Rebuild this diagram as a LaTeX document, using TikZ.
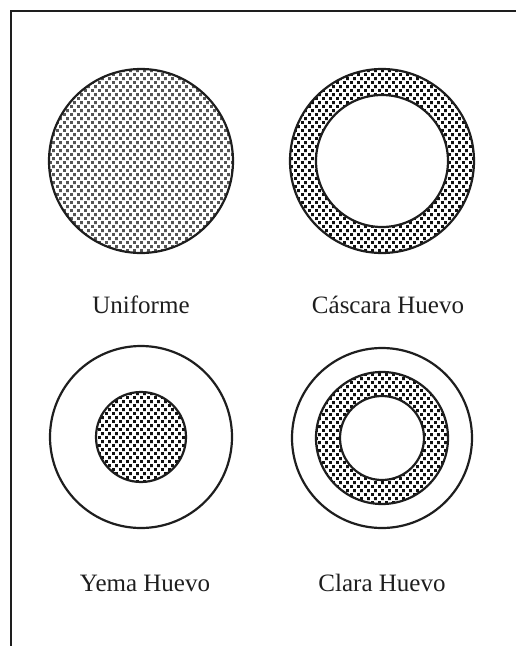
\documentclass[tikz,border=0pt]{standalone}
\usepackage{fontspec}
\setmainfont{Liberation Serif}
\usetikzlibrary{patterns}
\pgfdeclarepatternformonly{sqdots}{\pgfpointorigin}{\pgfqpoint{7pt}{8.4pt}}{\pgfqpoint{7pt}{8.4pt}}{%
  \pgfpathrectangle{\pgfqpoint{0pt}{0pt}}{\pgfqpoint{3.2pt}{3.2pt}}%
  \pgfpathrectangle{\pgfqpoint{3.5pt}{4.2pt}}{\pgfqpoint{3.2pt}{3.2pt}}%
  \pgfusepath{fill}}
\definecolor{lightdot}{HTML}{555555}
\definecolor{darkdot}{HTML}{111111}
\definecolor{ink}{HTML}{1E1E1E}
\tikzset{
  ring/.style={draw=ink, line width=2.2pt},
  graydots/.style={ring, pattern=sqdots, pattern color=lightdot},
  blackdots/.style={ring, pattern=sqdots, pattern color=darkdot},
  plain/.style={ring, fill=white},
  lbl/.style={anchor=base, font=\fontsize{25}{29}\selectfont, text=ink, inner sep=0pt},
  frame/.style={draw=ink, line width=2.2pt}
}
\begin{document}
\begin{tikzpicture}[x=1pt,y=-1pt]
\useasboundingbox (0,0) rectangle (516,646);
\coordinate (fb) at (11,646);
\coordinate (fc) at (11,11);
\coordinate (fr) at (516,11);
\draw[frame] (fb) -- (fc) -- (fr);
% Uniforme
\path[graydots] (141,161) circle[radius=92];
\node[lbl] (l1) at (141,313) {Uniforme};
% Cascara Huevo
\path[blackdots] (382,161) circle[radius=92];
\path[plain] (382,161) circle[radius=66];
\node[lbl] (l2) at (388,313) {Cáscara Huevo};
% Yema Huevo
\path[plain] (141,437) circle[radius=91];
\path[blackdots] (141,437) circle[radius=45];
\node[lbl] (l3) at (145,591) {Yema Huevo};
% Clara Huevo
\path[plain] (382,438) circle[radius=90];
\path[blackdots] (382,438) circle[radius=66];
\path[plain] (382,438) circle[radius=42];
\node[lbl] (l4) at (382,591) {Clara Huevo};
\end{tikzpicture}
\end{document}
